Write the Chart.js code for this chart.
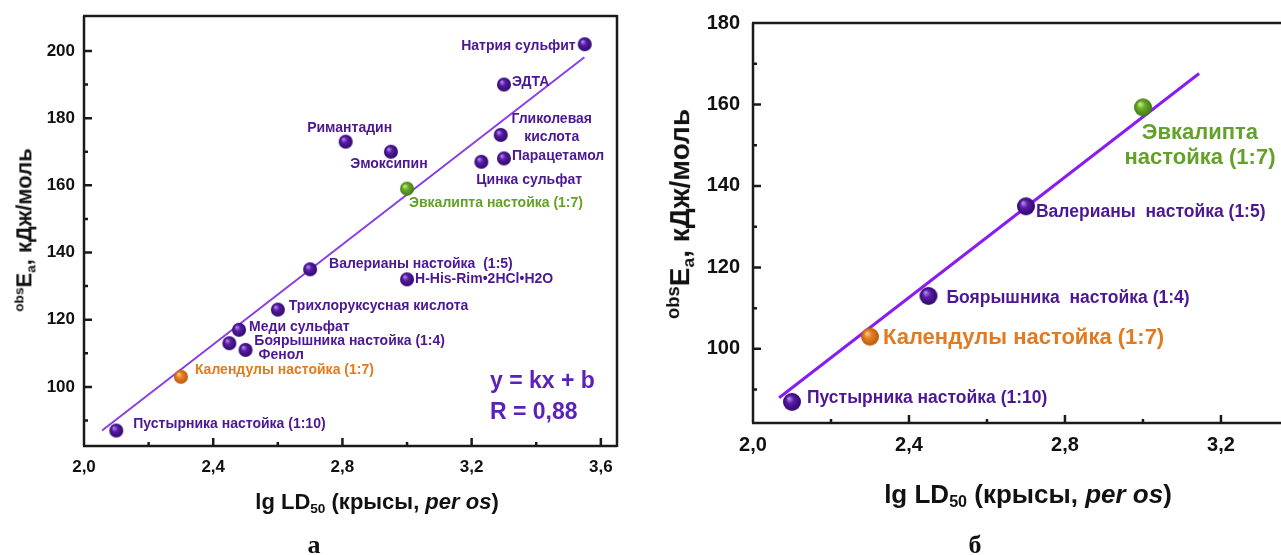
<!DOCTYPE html>
<html>
<head>
<meta charset="utf-8">
<script src="https://cdn.jsdelivr.net/npm/chart.js@4"></script>
<style>
  body { margin: 0; background: #fff; width: 1281px; height: 555px; overflow: hidden; position: relative; font-family: "Liberation Sans", Arial, sans-serif; }
  .wrap { position: absolute; top: 0; height: 555px; }
  .t { position: absolute; white-space: nowrap; font-weight: bold; color: #111; line-height: 1; transform: translate(-50%, -50%); }
  .rot { transform: translate(-50%, -50%) rotate(-90deg); }
  .t sub { font-size: 0.62em; vertical-align: -0.3em; }
  .t .sup { font-size: 0.62em; vertical-align: 0.55em; }
  .mark { font-family: "Liberation Serif", "Times New Roman", serif; font-size: 26px; }
</style>
</head>
<body>
<div class="wrap" style="left:0;width:640px"><canvas id="chartA" width="640" height="555"></canvas></div>
<!-- canvas is 10px wider than the page: the library keeps room for the point radius on the right -->
<div class="wrap" style="left:640px;width:651px"><canvas id="chartB" width="651" height="555"></canvas></div>

<div class="t rot" style="left:25px;top:230px;font-size:22px"><span class="sup">obs</span>E<sub>a</sub>, кДж/моль</div>
<div class="t" style="left:377px;top:503px;font-size:22px">lg LD<sub>50</sub> (крысы, <i>per os</i>)</div>
<div class="t mark" style="left:314px;top:545px">а</div>

<div class="t rot" style="left:681px;top:214px;font-size:28px"><span class="sup" style="font-size:0.66em">obs</span>E<sub>a</sub>, кДж/моль</div>
<div class="t" style="left:1028px;top:495px;font-size:26px">lg LD<sub>50</sub> (крысы, <i>per os</i>)</div>
<div class="t mark" style="left:975px;top:545px">б</div>

<script>
// панель а
const namesA = ["Натрия сульфит", "ЭДТА", "Гликолевая\nкислота", "Парацетамол", "Цинка сульфат",
  "Римантадин", "Эмоксипин", "Эвкалипта настойка (1:7)", "Валерианы настойка  (1:5)",
  "H-His-Rim•2HCl•H2O", "Трихлоруксусная кислота", "Меди сульфат", "Боярышника настойка (1:4)",
  "Фенол", "Календулы настойка (1:7)", "Пустырника настойка (1:10)"];
const lgA = [3.55, 3.30, 3.29, 3.30, 3.23, 2.81, 2.95, 3.00, 2.70, 3.00, 2.60, 2.48, 2.45, 2.50, 2.30, 2.10];
const eaA = [202, 190, 175, 168, 167, 173, 170, 159, 135, 132, 123, 117, 113, 111, 103, 87];
const fitXA = [2.056, 3.549];
const fitYA = [87.0, 198.1];

// панель б
const namesB = ["Пустырника настойка (1:10)", "Календулы настойка (1:7)", "Боярышника  настойка (1:4)",
  "Валерианы  настойка (1:5)", "Эвкалипта\nнастойка (1:7)"];
const lgB = [2.10, 2.30, 2.45, 2.70, 3.00];
const eaB = [87, 103, 113, 135, 159.3];
const fitXB = [2.067, 3.144];
const fitYB = [88.0, 167.6];

// оси
const xTicksA = [2.0, 2.4, 2.8, 3.2, 3.6];
const xLabelsA = ["2,0", "2,4", "2,8", "3,2", "3,6"];
const xMinorA = [2.2, 2.6, 3.0, 3.4];
const yTicksA = [100, 120, 140, 160, 180, 200];
const yLabelsA = ["100", "120", "140", "160", "180", "200"];
const yMinorA = [90, 110, 130, 150, 170, 190];

const xTicksB = [2.0, 2.4, 2.8, 3.2];
const xLabelsB = ["2,0", "2,4", "2,8", "3,2"];
const xMinorB = [2.2, 2.6, 3.0];
const yTicksB = [100, 120, 140, 160, 180];
const yLabelsB = ["100", "120", "140", "160", "180"];
const yMinorB = [90, 110, 130, 150, 170];

const FONT = "'Liberation Sans', Arial, sans-serif";
const PURPLE = "#4c1794", GREEN = "#62a228", ORANGE = "#e27a20";

function sphere(r, light, base, dark) {
  const c = document.createElement("canvas");
  c.width = c.height = 2 * r + 2;
  const g = c.getContext("2d");
  const m = r + 1;
  const grad = g.createRadialGradient(m - r * 0.35, m - r * 0.4, r * 0.05, m, m, r);
  grad.addColorStop(0, light);
  grad.addColorStop(0.4, base);
  grad.addColorStop(1, dark);
  g.fillStyle = grad;
  g.beginPath();
  g.arc(m, m, r, 0, Math.PI * 2);
  g.fill();
  return c;
}

function ballFor(name, r) {
  if (name.startsWith("Эвкалипта")) return sphere(r, "#c8ec8a", "#6aab2a", "#3f7a12");
  if (name.startsWith("Календулы")) return sphere(r, "#f8c890", "#e8801f", "#b85a10");
  return sphere(r, "#b48ce8", "#5a1ca8", "#2e0868");
}
function textColor(name) {
  if (name.startsWith("Эвкалипта")) return GREEN;
  if (name.startsWith("Календулы")) return ORANGE;
  return PURPLE;
}

// рамка и засечки внутрь
const framePlugin = {
  id: "frame",
  afterDraw(chart, args, o) {
    const { ctx, chartArea: a, scales: { x, y } } = chart;
    ctx.save();
    ctx.strokeStyle = "#1a1a1a";
    ctx.lineWidth = o.lw;
    ctx.beginPath();
    ctx.moveTo(a.left, a.top); ctx.lineTo(a.left, a.bottom);
    ctx.moveTo(a.left - 1, a.bottom); ctx.lineTo(a.right, a.bottom);
    ctx.moveTo(a.left - 1, a.top); ctx.lineTo(a.right, a.top);
    if (o.right) { ctx.moveTo(a.right, a.top - 1); ctx.lineTo(a.right, a.bottom + 1); }
    o.xMajor.forEach(v => { const p = x.getPixelForValue(v); ctx.moveTo(p, a.bottom); ctx.lineTo(p, a.bottom - o.major); });
    o.xMinor.forEach(v => { const p = x.getPixelForValue(v); ctx.moveTo(p, a.bottom); ctx.lineTo(p, a.bottom - o.minor); });
    o.yMajor.forEach(v => { const p = y.getPixelForValue(v); ctx.moveTo(a.left, p); ctx.lineTo(a.left + o.major, p); });
    o.yMinor.forEach(v => { const p = y.getPixelForValue(v); ctx.moveTo(a.left, p); ctx.lineTo(a.left + o.minor, p); });
    ctx.stroke();
    ctx.restore();
  }
};

// подписи точек
const labelPlugin = {
  id: "names",
  afterDatasetsDraw(chart, args, o) {
    const ctx = chart.ctx;
    const meta = chart.getDatasetMeta(0);
    ctx.save();
    ctx.textBaseline = "middle";
    meta.data.forEach((pt, i) => {
      const name = o.names[i];
      const p = o.pos[i];
      ctx.fillStyle = textColor(name);
      ctx.font = "bold " + (p.size || o.size) + "px " + FONT;
      ctx.textAlign = p.align || "left";
      name.split("\n").forEach((line, k) => {
        ctx.fillText(line, pt.x + p.dx, pt.y + p.dy + k * (p.lh || 18));
      });
    });
    (o.extra || []).forEach(e => {
      ctx.fillStyle = e.color;
      ctx.font = "bold " + e.size + "px " + FONT;
      ctx.textAlign = "left";
      ctx.fillText(e.text, chart.chartArea.left + e.x, chart.chartArea.top + e.y);
    });
    ctx.restore();
  }
};

const labelPosA = [
  { dx: -9, dy: 2, align: "right" }, { dx: 8, dy: -2 }, { dx: 51, dy: -16, align: "center" },
  { dx: 8, dy: -2 }, { dx: -5, dy: 18 }, { dx: 4, dy: -14, align: "center" },
  { dx: -2, dy: 12, align: "center" }, { dx: 2, dy: 14 }, { dx: 19, dy: -5 }, { dx: 8, dy: 0 },
  { dx: 11, dy: -3 }, { dx: 10, dy: -3 }, { dx: 25, dy: -2 }, { dx: 13, dy: 5 },
  { dx: 14, dy: -7 }, { dx: 17, dy: -6 }
];
const labelPosB = [
  { dx: 15, dy: -4 }, { dx: 13, dy: 1, size: 22 }, { dx: 18, dy: 2 }, { dx: 10, dy: 6 },
  { dx: 57, dy: 26, align: "center", size: 22, lh: 25 }
];

function makeChart(id, cfg) {
  const pts = cfg.xs.map((v, i) => ({ x: v, y: cfg.ys[i] }));
  const fit = cfg.fx.map((v, i) => ({ x: v, y: cfg.fy[i] }));
  const tickFont = { family: FONT, size: cfg.tickSize, weight: "bold" };
  return new Chart(document.getElementById(id), {
    type: "scatter",
    data: {
      datasets: [{
        data: pts,
        pointStyle: cfg.names.map(n => ballFor(n, cfg.r)),
        pointRadius: cfg.r,
        pointHoverRadius: cfg.r
      }, {
        type: "line",
        data: fit,
        borderColor: cfg.lineColor,
        borderWidth: cfg.lineWidth,
        pointRadius: 0,
        fill: false,
        tension: 0
      }]
    },
    options: {
      responsive: false,
      animation: false,
      layout: { padding: cfg.pad },
      plugins: {
        legend: { display: false },
        tooltip: { enabled: false },
        frame: cfg.frame,
        names: { names: cfg.names, pos: cfg.pos, size: cfg.labelSize, extra: cfg.extra }
      },
      scales: {
        x: {
          type: "linear", min: cfg.xmin, max: cfg.xmax,
          grid: { display: false, drawTicks: false }, border: { display: false },
          ticks: { font: tickFont, color: "#111", padding: cfg.xPad, maxRotation: 0,
            callback: v => { const i = cfg.xt.indexOf(v); return i >= 0 ? cfg.xl[i] : ""; } },
          afterBuildTicks: s => { s.ticks = cfg.xt.map(v => ({ value: v })); },
          afterFit: s => { s.height = cfg.xH; s.paddingLeft = 0; s.paddingRight = 0; }
        },
        y: {
          min: cfg.ymin, max: cfg.ymax,
          grid: { display: false, drawTicks: false }, border: { display: false },
          ticks: { font: tickFont, color: "#111", padding: cfg.yPad,
            callback: v => { const i = cfg.yt.indexOf(v); return i >= 0 ? cfg.yl[i] : ""; } },
          afterBuildTicks: s => { s.ticks = cfg.yt.map(v => ({ value: v })); },
          afterFit: s => { s.width = cfg.yW; s.paddingTop = 0; s.paddingBottom = 0; }
        }
      }
    },
    plugins: [framePlugin, labelPlugin]
  });
}

makeChart("chartA", {
  names: namesA, xs: lgA, ys: eaA, fx: fitXA, fy: fitYA,
  xt: xTicksA, xl: xLabelsA, yt: yTicksA, yl: yLabelsA,
  xmin: 2.0, xmax: 3.65, ymin: 82.4, ymax: 210.4,
  pad: { left: 0, top: 16, right: 23, bottom: 0 }, xH: 109, yW: 84,
  xPad: 11, yPad: 9, tickSize: 17, r: 7, labelSize: 14,
  lineColor: "#8a3fe4", lineWidth: 2, pos: labelPosA,
  frame: { lw: 2.5, right: true, major: 8, minor: 4, xMajor: xTicksA, xMinor: xMinorA, yMajor: yTicksA, yMinor: yMinorA },
  extra: [
    { text: "y = kx + b", x: 406, y: 366, size: 23, color: "#5a22b8" },
    { text: "R = 0,88", x: 406, y: 397, size: 23, color: "#5a22b8" }
  ]
});

makeChart("chartB", {
  names: namesB, xs: lgB, ys: eaB, fx: fitXB, fy: fitYB,
  xt: xTicksB, xl: xLabelsB, yt: yTicksB, yl: yLabelsB,
  xmin: 2.0, xmax: 3.354, ymin: 81.8, ymax: 180,
  pad: { left: 0, top: 23, right: 0, bottom: 0 }, xH: 132, yW: 113,
  xPad: 10, yPad: 13, tickSize: 20, r: 9, labelSize: 17.5,
  lineColor: "#8a1cf2", lineWidth: 3, pos: labelPosB,
  frame: { lw: 2.5, right: false, major: 8, minor: 4, xMajor: xTicksB, xMinor: xMinorB, yMajor: yTicksB, yMinor: yMinorB },
  extra: []
});
</script>
</body>
</html>
